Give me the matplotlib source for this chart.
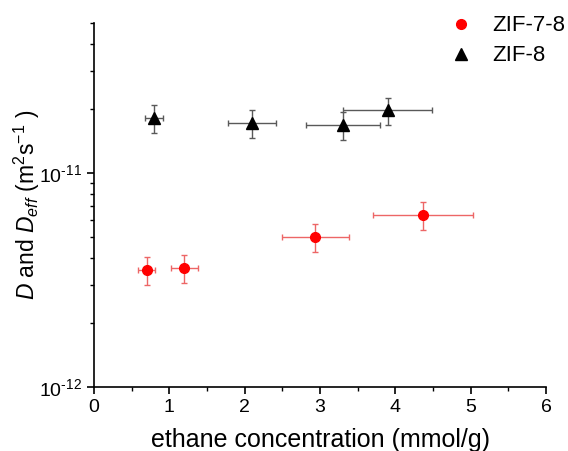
import numpy as np
import matplotlib.pyplot as plt
from matplotlib.ticker import NullFormatter, FuncFormatter

plt.rcParams['font.family'] = ['Liberation Sans', 'DejaVu Sans']
plt.rcParams['mathtext.fontset'] = 'custom'
plt.rcParams['mathtext.rm'] = 'Liberation Sans'
plt.rcParams['mathtext.it'] = 'Liberation Sans:italic'

# ZIF-7-8 (circles)
zif78_x = [0.70, 1.20, 2.94, 4.37]
zif78_xerr = [0.11, 0.18, 0.44, 0.66]
zif78_y = [3.53e-12, 3.61e-12, 5.04e-12, 6.38e-12]
zif78_yerr = [0.52e-12, 0.54e-12, 0.75e-12, 0.96e-12]

# ZIF-8 (triangles)
zif8_x = [0.80, 2.10, 3.30, 3.90]
zif8_xerr = [0.12, 0.32, 0.49, 0.59]
zif8_y = [1.80e-11, 1.71e-11, 1.67e-11, 1.96e-11]
zif8_yerr = [0.27e-11, 0.25e-11, 0.25e-11, 0.29e-11]


def decade_label(v, pos):
    e = int(round(np.log10(v)))
    return r'10$^{\text{-}%d}$' % (-e)


fig = plt.figure(figsize=(5.68, 4.51), dpi=100)
ax = fig.add_axes([0.1655, 0.1419, 0.7958, 0.8064])

ax.errorbar(zif78_x, zif78_y, xerr=zif78_xerr, yerr=zif78_yerr, fmt='o',
            color='red', ms=7, ecolor=(0.93, 0.4, 0.4), elinewidth=1,
            capsize=2.5, capthick=1, label='ZIF-7-8')
ax.errorbar(zif8_x, zif8_y, xerr=zif8_xerr, yerr=zif8_yerr, fmt='^',
            color='black', ms=8.5, ecolor=(0.35, 0.35, 0.35), elinewidth=1,
            capsize=2.5, capthick=1, label='ZIF-8')

ax.set_yscale('log')
ax.set_xlim(0, 6)
ax.set_ylim(1e-12, 5e-11)
ax.set_xticks(range(7))
ax.set_xticks(np.arange(0.5, 6, 1), minor=True)
ax.yaxis.set_major_formatter(FuncFormatter(decade_label))
ax.yaxis.set_minor_formatter(NullFormatter())

for s in ['top', 'right']:
    ax.spines[s].set_visible(False)
for s in ['left', 'bottom']:
    ax.spines[s].set_linewidth(1.2)

ax.tick_params(which='major', direction='out', length=5, width=1.2, labelsize=14)
ax.tick_params(which='minor', direction='out', length=3, width=1)

ax.set_xlabel('ethane concentration (mmol/g)', fontsize=18, labelpad=9)
ax.set_ylabel(r'$D$ and $D_{eff}$ (m$^2$s$^{-1}$ )', fontsize=16.5)
ax.yaxis.set_label_coords(-0.115, 0.5)

handles, labels = ax.get_legend_handles_labels()
handles = [h[0] for h in handles]
fig.legend(handles, labels, loc='upper right', bbox_to_anchor=(1.03, 1.01),
           frameon=False, fontsize=16, handletextpad=0.4, labelspacing=0.4)

fig.savefig('out.png', dpi=100)
